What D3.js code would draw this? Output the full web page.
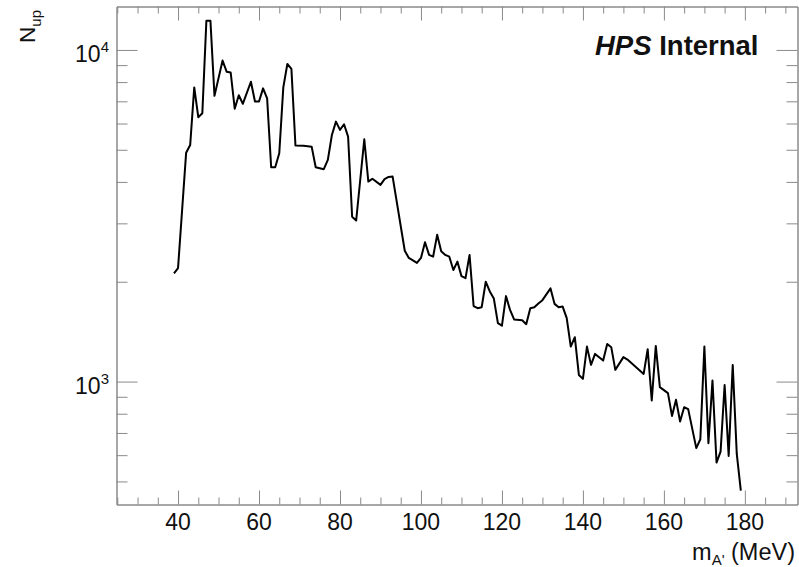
<!DOCTYPE html>
<html>
<head>
<meta charset="utf-8">
<script src="https://cdn.jsdelivr.net/npm/d3@7/dist/d3.min.js"></script>
<style>
  html, body { margin: 0; padding: 0; background: #fff; }
  svg { display: block; font-family: "Liberation Sans", Arial, Helvetica, sans-serif; }
</style>
</head>
<body>
<svg id="chart" width="799" height="567"></svg>
<script>
// A' mass hypotheses (MeV) and the upper-limit signal yield at each
const masses = [39, 40, 42, 43, 44, 45, 46, 47, 48, 49, 51, 52, 53, 54, 55, 56, 58, 59, 60, 61,
  62, 63, 64, 65, 66, 67, 68, 69, 71, 73, 74, 76, 77, 78, 79, 80, 81, 82, 83, 84,
  86, 87, 88, 90, 91, 92, 93, 96, 97, 99, 100, 101, 102, 103, 104, 105, 106, 107, 108, 109,
  110, 111, 112, 113, 114, 115, 116, 117, 118, 119, 120, 121, 122, 123, 125, 126, 127, 128, 129, 130,
  132, 133, 134, 135, 136, 137, 138, 139, 140, 141, 142, 143, 145, 146, 147, 148, 150, 151, 155, 156,
  157, 158, 159, 161, 162, 163, 164, 165, 166, 168, 169, 170, 171, 172, 173, 174, 175, 176, 177, 178, 179];
const nUp = [2120, 2200, 4900, 5170, 7710, 6270, 6440, 12250, 12250, 7270, 9290, 8600, 8550, 6650, 7300, 6880, 8020, 6990, 6990, 7660,
  7150, 4430, 4430, 4880, 7710, 9070, 8770, 5150, 5140, 5110, 4430, 4370, 4660, 5540, 6080, 5740, 5970, 5480, 3140, 3060,
  5380, 4010, 4090, 3920, 4080, 4140, 4150, 2480, 2360, 2280, 2360, 2630, 2410, 2380, 2770, 2470, 2410, 2380, 2170, 2300,
  2080, 2050, 2410, 1690, 1665, 1676, 2000, 1870, 1780, 1500, 1475, 1810, 1645, 1540, 1530, 1490, 1665, 1676, 1720, 1760,
  1910, 1715, 1676, 1683, 1553, 1275, 1361, 1047, 1019, 1275, 1123, 1212, 1157, 1299, 1270, 1085, 1185, 1165, 1055, 1252,
  877, 1281, 962, 923, 788, 881, 758, 837, 826, 630, 670, 1275, 652, 1007, 570, 615, 977, 597, 1123, 605, 469];

// Axis ticks
const xMajorTicks = [40, 60, 80, 100, 120, 140, 160, 180];
const xMinorTicks = d3.range(25, 195, 5).filter(v => v % 20 !== 0);
const yMajorTicks = [1000, 10000];
const yMajorExponents = ["3", "4"];
const yMinorTicks = [500, 600, 700, 800, 900, 2000, 3000, 4000, 5000, 6000, 7000, 8000, 9000];

const svg = d3.select("#chart");
const frame = { left: 116.5, right: 797.5, top: 6.5, bottom: 504.5 };
const axisColor = "#8a8a8a";

const x = d3.scaleLinear().domain([24.8, 193]).range([frame.left, frame.right]);
const y = d3.scaleLog().domain([426, 13520]).range([frame.bottom, frame.top]);

function styleAxis(g) {
  g.selectAll("path.domain").attr("stroke", axisColor).attr("stroke-width", 1);
  g.selectAll(".tick line").attr("stroke", axisColor).attr("stroke-width", 1);
  g.selectAll("text").remove();
}

// Tick marks on all four sides, pointing inward
const axes = [
  [d3.axisBottom(x).tickValues(xMajorTicks).tickSize(-14), `translate(0,${frame.bottom})`],
  [d3.axisBottom(x).tickValues(xMinorTicks).tickSize(-7), `translate(0,${frame.bottom})`],
  [d3.axisTop(x).tickValues(xMajorTicks).tickSize(-14), `translate(0,${frame.top})`],
  [d3.axisTop(x).tickValues(xMinorTicks).tickSize(-7), `translate(0,${frame.top})`],
  [d3.axisLeft(y).tickValues(yMajorTicks).tickSize(-21), `translate(${frame.left},0)`],
  [d3.axisLeft(y).tickValues(yMinorTicks).tickSize(-11), `translate(${frame.left},0)`],
  [d3.axisRight(y).tickValues(yMajorTicks).tickSize(-21), `translate(${frame.right},0)`],
  [d3.axisRight(y).tickValues(yMinorTicks).tickSize(-11), `translate(${frame.right},0)`]
];
axes.forEach(([axis, tr]) => {
  svg.append("g").attr("transform", tr).call(axis.tickSizeOuter(0)).call(styleAxis);
});

// x tick labels
svg.append("g").selectAll("text").data(xMajorTicks).join("text")
  .attr("x", d => x(d)).attr("y", 529.5)
  .attr("text-anchor", "middle").attr("font-size", 23).attr("fill", "#111")
  .text(d => d);

// y tick labels as powers of ten
const yl = svg.append("g").selectAll("text").data(yMajorTicks).join("text")
  .attr("x", 109).attr("y", d => y(d) + 12)
  .attr("text-anchor", "end").attr("font-size", 23).attr("fill", "#111");
yl.append("tspan").text("10");
yl.append("tspan").attr("font-size", 15).attr("dy", -9.5).text((d, i) => yMajorExponents[i]);

// curve
const line = d3.line().x(d => x(d[0])).y(d => y(d[1]));
svg.append("path")
  .datum(masses.map((m, i) => [m, nUp[i]]))
  .attr("d", line)
  .attr("fill", "none").attr("stroke", "#000").attr("stroke-width", 2)
  .attr("stroke-linejoin", "round");

// axis titles
const xt = svg.append("text").attr("x", 795).attr("y", 560)
  .attr("text-anchor", "end").attr("font-size", 23.5).attr("fill", "#111");
xt.append("tspan").text("m");
xt.append("tspan").attr("font-size", 15).attr("dy", 5).text("A'");
xt.append("tspan").attr("dy", -5).text(" (MeV)");

const yt = svg.append("text").attr("transform", "translate(35,10) rotate(-90)")
  .attr("text-anchor", "end").attr("font-size", 22.5).attr("fill", "#111");
yt.append("tspan").text("N");
yt.append("tspan").attr("font-size", 15).attr("dy", 6).text("up");

// label
const lab = svg.append("text").attr("x", 595).attr("y", 55)
  .attr("font-size", 27.5).attr("font-weight", "bold").attr("fill", "#111");
lab.append("tspan").attr("font-style", "italic").text("HPS");
lab.append("tspan").text(" Internal");
</script>
</body>
</html>
